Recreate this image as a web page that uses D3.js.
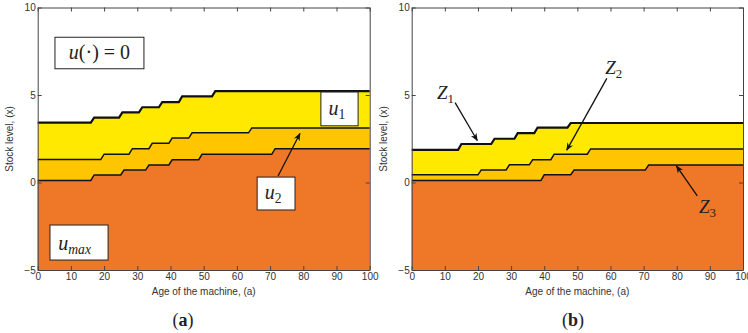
<!DOCTYPE html>
<html>
<head>
<meta charset="utf-8">
<script src="https://cdn.jsdelivr.net/npm/d3@7"></script>
<style>
  body { margin: 0; background: #fff; }
  .tick text { font-family: "Liberation Sans Narrow", "Liberation Sans", Arial, sans-serif; font-size: 10px; fill: #333; }
  .lbl { font-family: "Liberation Sans Narrow", "Liberation Sans", Arial, sans-serif; font-size: 10px; fill: #333; }
  .math { font-family: "Liberation Serif", "DejaVu Serif", serif; fill: #222; }
</style>
</head>
<body>
<div id="chart"></div>
<script>
// ages and stock levels
var xTicks = [0, 10, 20, 30, 40, 50, 60, 70, 80, 90, 100];
var yTicks = [-5, 0, 5, 10];

// panel (a): age where each step starts, and the level of each flat part
var u1Steps = [16, 24.5, 30.5, 36.5, 42.5, 52.5];
var u1Levels = [3.42, 3.71, 4.01, 4.3, 4.59, 4.92, 5.22];
var u2Steps = [19, 27.5, 33.5, 39.5, 45.5, 63.5];
var u2Levels = [1.31, 1.62, 1.93, 2.24, 2.54, 2.84, 3.12];
var uMaxSteps = [16, 25, 32.5, 39.5, 48.5, 70.5];
var uMaxLevels = [0.12, 0.43, 0.71, 1.0, 1.3, 1.61, 1.93];

// panel (b)
var z1Steps = [14, 24, 31, 37, 47];
var z1Levels = [1.87, 2.2, 2.5, 2.82, 3.14, 3.4];
var z2Steps = [20, 28.5, 35.5, 42, 53];
var z2Levels = [0.44, 0.72, 1.01, 1.3, 1.62, 1.92];
var z3Steps = [39, 48, 70.5];
var z3Levels = [0.11, 0.44, 0.71, 1.0];

var colYellow = "#ffe900";
var colAmber = "#ffc600";
var colOrange = "#ee7828";

// turn step data into points (short ramp at every step)
function stepPoints(steps, levels) {
  var pts = [[0, levels[0]]];
  steps.forEach(function(s, i) {
    pts.push([s, levels[i]]);
    pts.push([s + 1, levels[i + 1]]);
  });
  pts.push([100, levels[levels.length - 1]]);
  return pts;
}

var svg = d3.select("#chart").append("svg")
  .attr("width", 748).attr("height", 333);

function drawPanel(left, right, curves) {
  var x = d3.scaleLinear().domain([0, 100]).range([left, right]);
  var y = d3.scaleLinear().domain([-5, 10]).range([270, 7.5]);
  var g = svg.append("g");

  var area = d3.area()
    .x(function(d) { return x(d[0]); })
    .y0(y(-5))
    .y1(function(d) { return y(d[1]); });
  var line = d3.line()
    .x(function(d) { return x(d[0]); })
    .y(function(d) { return y(d[1]); });

  curves.forEach(function(c) {
    g.append("path").attr("d", area(c.pts)).attr("fill", c.fill);
  });
  curves.forEach(function(c) {
    g.append("path").attr("d", line(c.pts))
      .attr("fill", "none").attr("stroke", "#111")
      .attr("stroke-width", c.w);
  });

  // MATLAB style box with inner ticks
  g.append("g").attr("transform", "translate(0,270)")
    .call(d3.axisBottom(x).tickValues(xTicks).tickSize(-4).tickSizeOuter(0).tickPadding(3));
  g.append("g").attr("transform", "translate(0,7.5)")
    .call(d3.axisTop(x).tickValues(xTicks).tickSize(-4).tickSizeOuter(0).tickFormat(""));
  g.append("g").attr("transform", "translate(" + left + ",0)")
    .call(d3.axisLeft(y).tickValues(yTicks).tickSize(-4).tickSizeOuter(0).tickPadding(2));
  g.append("g").attr("transform", "translate(" + right + ",0)")
    .call(d3.axisRight(y).tickValues(yTicks).tickSize(-4).tickSizeOuter(0).tickFormat(""));
  g.selectAll(".domain, .tick line").attr("stroke", "#444");

  g.append("text").attr("class", "lbl")
    .attr("x", (left + right) / 2).attr("y", 295)
    .attr("text-anchor", "middle")
    .text("Age of the machine, (a)");
  g.append("text").attr("class", "lbl")
    .attr("transform", "translate(" + (left - 25) + ",139) rotate(-90)")
    .attr("text-anchor", "middle")
    .text("Stock level, (x)");

  return { g: g, x: x, y: y };
}

var pa = drawPanel(37.7, 369.7, [
  { pts: stepPoints(u1Steps, u1Levels), fill: colYellow, w: 2.2 },
  { pts: stepPoints(u2Steps, u2Levels), fill: colAmber, w: 1.5 },
  { pts: stepPoints(uMaxSteps, uMaxLevels), fill: colOrange, w: 1.5 }
]);
var pb = drawPanel(411.7, 743, [
  { pts: stepPoints(z1Steps, z1Levels), fill: colYellow, w: 2.2 },
  { pts: stepPoints(z2Steps, z2Levels), fill: colAmber, w: 1.5 },
  { pts: stepPoints(z3Steps, z3Levels), fill: colOrange, w: 1.5 }
]);

// arrow marker
svg.append("defs").append("marker")
  .attr("id", "ah").attr("viewBox", "0 0 10 10")
  .attr("refX", 9).attr("refY", 5)
  .attr("markerWidth", 8).attr("markerHeight", 8)
  .attr("markerUnits", "userSpaceOnUse")
  .attr("orient", "auto")
  .append("path").attr("d", "M0,1 L10,5 L0,9 L3,5 Z").attr("fill", "#111");

function arrow(p, a0, v0, a1, v1) {
  p.g.append("line")
    .attr("x1", p.x(a0)).attr("y1", p.y(v0))
    .attr("x2", p.x(a1)).attr("y2", p.y(v1))
    .attr("stroke", "#111").attr("stroke-width", 1.3)
    .attr("marker-end", "url(#ah)");
}

function box(p, a0, a1, v0, v1) {
  p.g.append("rect")
    .attr("x", p.x(a0)).attr("y", p.y(v0))
    .attr("width", p.x(a1) - p.x(a0)).attr("height", p.y(v1) - p.y(v0))
    .attr("fill", "#fff").attr("stroke", "#222").attr("stroke-width", 1);
}

// math label: main symbol with optional subscript
function mathLabel(p, a, v, main, sub, size) {
  var t = p.g.append("text").attr("class", "math")
    .attr("x", p.x(a)).attr("y", p.y(v))
    .style("font-size", size + "px");
  t.append("tspan").style("font-style", "italic").text(main);
  if (sub) {
    t.append("tspan").attr("dy", 4).style("font-size", (size * 0.68) + "px")
      .style("font-style", /\d/.test(sub) ? "normal" : "italic").text(sub);
  }
  return t;
}

// panel (a) annotations
box(pa, 5.2, 32.0, 8.3, 6.5);
var t0 = pa.g.append("text").attr("class", "math")
  .attr("x", pa.x(18.6)).attr("y", pa.y(7.05))
  .attr("text-anchor", "middle").style("font-size", "20px");
t0.append("tspan").style("font-style", "italic").text("u");
t0.append("tspan").text("(\u00b7) = 0");

box(pa, 85.3, 96.5, 5.17, 3.24);
mathLabel(pa, 87.6, 3.85, "u", "1", 20);
arrow(pa, 72.4, 0.37, 79.0, 2.8);
box(pa, 66.1, 77.5, 0.31, -1.57);
mathLabel(pa, 68.4, -0.97, "u", "2", 20);
box(pa, 3.7, 21.2, -2.43, -4.43);
mathLabel(pa, 6.2, -3.86, "u", "max", 20);

// panel (b) annotations
mathLabel(pb, 7.6, 4.77, "Z", "1", 19);
arrow(pb, 13.1, 4.56, 19.8, 2.4);
mathLabel(pb, 58.4, 6.2, "Z", "2", 19);
arrow(pb, 58.9, 5.95, 46.8, 1.85);
mathLabel(pb, 86.7, -1.73, "Z", "3", 19);
arrow(pb, 86.2, -0.77, 79.9, 0.95);

// panel captions
[["a", 183], ["b", 573]].forEach(function(c) {
  var t = svg.append("text").attr("class", "math")
    .attr("x", c[1]).attr("y", 326)
    .attr("text-anchor", "middle").style("font-size", "18px");
  t.append("tspan").text("(");
  t.append("tspan").style("font-weight", "bold").text(c[0]);
  t.append("tspan").text(")");
});
</script>
</body>
</html>
